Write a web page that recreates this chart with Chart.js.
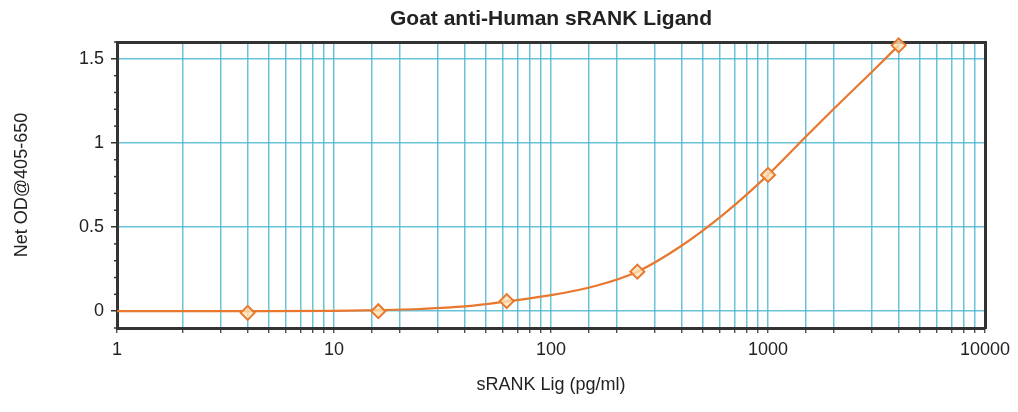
<!DOCTYPE html>
<html>
<head>
<meta charset="utf-8">
<script src="https://cdn.jsdelivr.net/npm/chart.js@4/dist/chart.umd.min.js"></script>
<style>
  html, body { margin: 0; padding: 0; background: #fff; }
  #wrap { width: 1018px; height: 412px; }
</style>
</head>
<body>
<div id="wrap"><canvas id="curveChart" width="1018" height="412"></canvas></div>
<script>
// standard points (pg/ml) and measured OD
const concX = [4, 16, 62.5, 250, 1000, 4000];
const odY = [-0.01, 0.0, 0.06, 0.235, 0.81, 1.58];

// fitted curve
const curveX = [1, 5, 10, 16, 25, 40, 62.5, 100, 160, 250, 390, 630, 1000, 1500, 2000, 3000, 4000];
const curveY = [0, 0, 0.002, 0.006, 0.013, 0.028, 0.058, 0.095, 0.15, 0.235, 0.38, 0.58, 0.81, 1.04, 1.2, 1.42, 1.58];

const xDecadeLabels = [1, 10, 100, 1000, 10000];
const yLabels = [0, 0.5, 1, 1.5];

const FONT = "'Liberation Sans', Arial, sans-serif";
const GRID = 'rgba(80,185,210,0.85)';
const AXIS = '#333';
const ORANGE = '#e8782f';

function isYMajor(v){
  return yLabels.some(l => Math.abs(l - v) < 1e-6);
}

// small minor tick marks on the left axis
const minorTicks = {
  id: 'minorTicks',
  afterDraw(chart){
    const y = chart.scales.y;
    const ctx = chart.ctx;
    ctx.save();
    ctx.strokeStyle = AXIS;
    ctx.lineWidth = 1.5;
    for(const t of y.ticks){
      if(isYMajor(t.value)) continue;
      const py = y.getPixelForValue(t.value);
      ctx.beginPath();
      ctx.moveTo(y.right - 3, py);
      ctx.lineTo(y.right + 1, py);
      ctx.stroke();
    }
    ctx.restore();
  }
};

new Chart(document.getElementById('curveChart').getContext('2d'), {
  type: 'scatter',
  data: {
    datasets: [
      {
        label: 'fit',
        data: curveX.map((x, i) => ({x, y: curveY[i]})),
        showLine: true,
        borderColor: ORANGE,
        borderWidth: 2.2,
        pointRadius: 0,
        cubicInterpolationMode: 'monotone',
        order: 2
      },
      {
        label: 'standards',
        data: concX.map((x, i) => ({x, y: odY[i]})),
        showLine: false,
        pointStyle: 'rectRot',
        pointRadius: 7,
        borderColor: ORANGE,
        borderWidth: 2,
        backgroundColor: 'rgba(255,225,180,0.8)',
        clip: false,
        order: 1
      }
    ]
  },
  options: {
    responsive: false,
    animation: false,
    layout: { padding: 0 },
    plugins: {
      legend: { display: false },
      tooltip: { enabled: false }
    },
    scales: {
      x: {
        type: 'logarithmic',
        position: 'bottom',
        min: 1,
        max: 10000,
        afterFit(s){ s.height = 84; },
        border: { color: AXIS, width: 3 },
        grid: {
          color: GRID,
          lineWidth: 1.5,
          tickColor: AXIS,
          tickLength: 5,
          tickWidth: 1.2
        },
        ticks: {
          autoSkip: false,
          maxRotation: 0,
          padding: 6,
          color: '#222',
          font: { family: FONT, size: 18 },
          callback: (v) => xDecadeLabels.includes(v) ? String(v) : ''
        },
        title: {
          display: true,
          text: 'sRANK Lig (pg/ml)',
          color: '#222',
          font: { family: FONT, size: 18 },
          padding: { top: 0, bottom: 16 }
        }
      },
      x2: {
        type: 'logarithmic',
        position: 'top',
        min: 1,
        max: 10000,
        afterFit(s){ s.height = 42; },
        border: { color: AXIS, width: 3 },
        grid: { display: false },
        ticks: { display: false },
        title: {
          display: true,
          text: 'Goat anti-Human sRANK Ligand',
          color: '#222',
          font: { family: FONT, size: 21, weight: 'bold' },
          padding: { top: 7, bottom: 0 }
        }
      },
      y: {
        type: 'linear',
        position: 'left',
        min: -0.1,
        max: 1.6,
        afterFit(s){ s.width = 117; },
        border: { color: AXIS, width: 3 },
        grid: {
          color: (c) => isYMajor(c.tick.value) ? GRID : 'rgba(0,0,0,0)',
          lineWidth: 1.5,
          tickColor: (c) => isYMajor(c.tick.value) ? AXIS : 'rgba(0,0,0,0)',
          tickLength: 6
        },
        ticks: {
          stepSize: 0.1,
          autoSkip: false,
          padding: 7,
          color: '#222',
          font: { family: FONT, size: 18 },
          callback: (v) => isYMajor(v) ? String(Math.round(v * 10) / 10) : ''
        },
        title: {
          display: true,
          text: 'Net OD@405-650',
          color: '#222',
          font: { family: FONT, size: 18 },
          padding: { top: 11, bottom: 0 }
        }
      },
      y2: {
        type: 'linear',
        position: 'right',
        min: -0.1,
        max: 1.6,
        afterFit(s){ s.width = 33; },
        border: { color: AXIS, width: 3 },
        grid: { display: false },
        ticks: { display: false }
      }
    }
  },
  plugins: [minorTicks]
});
</script>
</body>
</html>
